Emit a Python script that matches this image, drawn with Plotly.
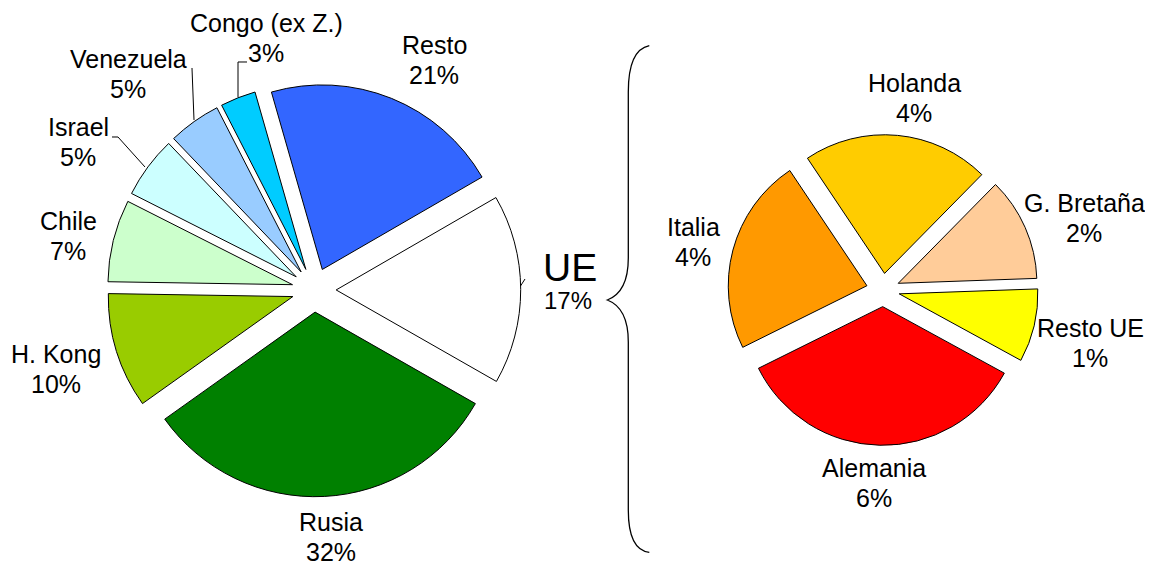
import plotly.graph_objects as go

W, H = 1153, 564
OFF = 8  # page body margin of the rendered html

# ---------------- data ----------------
paises = ["Resto", "UE", "Rusia", "H. Kong", "Chile", "Israel", "Venezuela", "Congo (ex Z.)"]
paises_val = [21.1, 16.6, 31.9, 10.1, 7.2, 5.4, 4.6, 3.1]
paises_txt = ["21%", "17%", "32%", "10%", "7%", "5%", "5%", "3%"]
paises_col = ["#3366FF", "#FFFFFF", "#008000", "#99CC00", "#CCFFCC", "#CCFFFF", "#99CCFF", "#00CCFF"]

ue = ["Holanda", "G. Bretaña", "Resto UE", "Alemania", "Italia"]
ue_val = [3.7, 2.05, 1.45, 5.9, 3.9]
ue_txt = ["4%", "2%", "1%", "6%", "4%"]
ue_col = ["#FFCC00", "#FFCC99", "#FFFF00", "#FF0000", "#FF9900"]


def px(x, y):
    return (x - OFF) / W, 1 - (y - OFF) / H


def dom(cx, cy, half):
    x0, y0 = px(cx - half, cy + half)
    x1, y1 = px(cx + half, cy - half)
    return dict(x=[x0, x1], y=[y0, y1])


fig = go.Figure()
fig.add_trace(go.Pie(
    labels=paises, values=paises_val, text=paises_txt,
    marker=dict(colors=paises_col, line=dict(color="black", width=1)),
    sort=False, direction="clockwise", rotation=-16, pull=0.12,
    textinfo="none", hovertemplate="%{label}<br>%{text}<extra></extra>",
    domain=dom(314, 290, 206.7), showlegend=False,
))
fig.add_trace(go.Pie(
    labels=ue, values=ue_val, text=ue_txt,
    marker=dict(colors=ue_col, line=dict(color="black", width=1)),
    sort=False, direction="clockwise", rotation=-33.8, pull=0.12,
    textinfo="none", hovertemplate="%{label}<br>%{text}<extra></extra>",
    domain=dom(883, 290, 155.3), showlegend=False,
))

FONT = "Liberation Sans, Arial, sans-serif"

# label placement (pixel centres of each two-line label block)
label_pos = {
    "Resto": (434, 60), "Rusia": (331, 537), "H. Kong": (56, 369),
    "Chile": (68, 236), "Israel": (78, 142), "Venezuela": (128, 74), "Congo (ex Z.)": (266, 38),
    "Holanda": (914, 98), "G. Bretaña": (1084, 218), "Resto UE": (1090, 343),
    "Alemania": (874, 483), "Italia": (693, 242),
}
LINE_GAP = 29.4

annotations = []


def add_text(text, cx, cy, size=25, family=FONT):
    x, y = px(cx, cy)
    annotations.append(dict(
        x=x, y=y, xref="paper", yref="paper", xanchor="center", yanchor="middle",
        text=text, showarrow=False, align="center",
        font=dict(family=family, size=size, color="black"),
    ))


for names, txts in ((paises, paises_txt), (ue, ue_txt)):
    for n, t in zip(names, txts):
        pos = label_pos.get(n)
        if pos is None:
            continue
        add_text(n, pos[0], pos[1] - LINE_GAP / 2)
        add_text(t, pos[0], pos[1] + LINE_GAP / 2)

# UE label (larger title + percentage)
add_text(paises[1], 570, 267, size=39)
add_text(paises_txt[1], 568, 301, size=24)


def path(points):
    s = ""
    for i, (a, b) in enumerate(points):
        X, Y = px(a, b)
        s += ("M" if i == 0 else "L") + f"{X:.5f},{Y:.5f} "
    return s


def qpath(segs):
    s = ""
    for cmd, pts in segs:
        s += cmd
        s += " ".join(f"{px(a, b)[0]:.5f},{px(a, b)[1]:.5f}" for a, b in pts) + " "
    return s


line_style = dict(color="black", width=1)
shapes = [
    dict(type="path", xref="paper", yref="paper", path=path([(247, 62), (238, 62), (238, 97)]), line=line_style),
    dict(type="path", xref="paper", yref="paper", path=path([(192, 68), (194, 120)]), line=line_style),
    dict(type="path", xref="paper", yref="paper", path=path([(112, 137), (118, 137), (145, 167)]), line=line_style),
    dict(type="path", xref="paper", yref="paper", path=path([(520.5, 286), (525, 279)]), line=line_style),
    # brace
    dict(type="path", xref="paper", yref="paper", line=dict(color="black", width=1.3),
         path=qpath([
             ("M", [(649.3, 45.7)]),
             ("Q", [(628.3, 50), (628.3, 92)]),
             ("L", [(628.3, 258)]),
             ("Q", [(628.3, 292), (607.3, 300)]),
             ("Q", [(628.3, 308), (628.3, 342)]),
             ("L", [(628.3, 510)]),
             ("Q", [(628.3, 550), (649.3, 552.3)]),
         ])),
]

fig.update_layout(
    width=W, height=H, margin=dict(l=0, r=0, t=0, b=0),
    paper_bgcolor="white", plot_bgcolor="white",
    annotations=annotations, shapes=shapes,
    font=dict(family=FONT),
)

fig.write_html("out.html")
